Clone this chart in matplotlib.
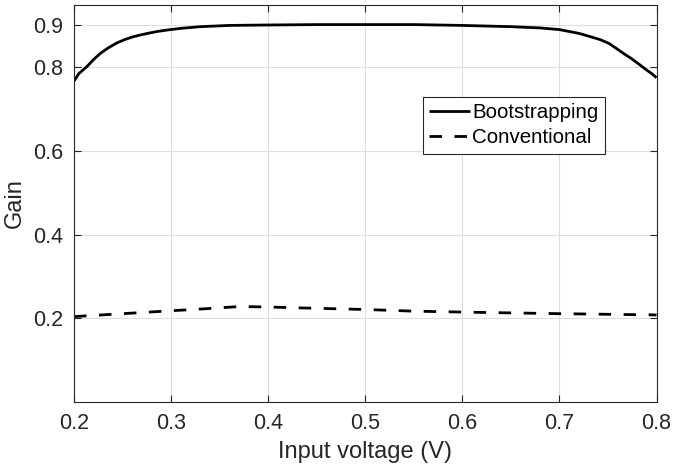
import matplotlib
matplotlib.use("Agg")
import matplotlib.pyplot as plt

plt.rcParams["font.family"] = ["Liberation Sans", "DejaVu Sans"]

# values
boot_v = [0.200, 0.205, 0.213, 0.220, 0.227, 0.235, 0.244, 0.252, 0.261,
          0.270, 0.278, 0.287, 0.296, 0.310, 0.330, 0.360, 0.400, 0.450,
          0.500, 0.550, 0.600, 0.650, 0.680, 0.700, 0.720, 0.732, 0.742,
          0.751, 0.758, 0.766, 0.774, 0.781, 0.790, 0.795, 0.800]
boot_gain = [0.767, 0.785, 0.801, 0.818, 0.833, 0.846, 0.858, 0.866, 0.873,
             0.878, 0.882, 0.886, 0.889, 0.893, 0.897, 0.900, 0.901, 0.902,
             0.902, 0.902, 0.900, 0.897, 0.894, 0.890, 0.881, 0.873, 0.866,
             0.857, 0.846, 0.833, 0.821, 0.809, 0.793, 0.785, 0.775]

conv_v = [0.20, 0.25, 0.30, 0.33, 0.37, 0.40, 0.43, 0.50, 0.55, 0.62, 0.70, 0.80]
conv_gain = [0.204, 0.211, 0.218, 0.222, 0.228, 0.227, 0.225, 0.221, 0.217,
             0.214, 0.211, 0.208]

xticks = [0.2, 0.3, 0.4, 0.5, 0.6, 0.7, 0.8]
yticks = [0.2, 0.4, 0.6, 0.8, 0.9]

dark = "0.15"

fig = plt.figure(figsize=(6.73, 4.74), dpi=100)
ax = fig.add_axes([0.110, 0.152, 0.8655, 0.8385])

ax.plot(boot_v, boot_gain, color="k", lw=2.0, label="Bootstrapping",
        solid_joinstyle="round", solid_capstyle="butt")
ax.plot(conv_v, conv_gain, color="k", lw=2.0, ls=(0, (4.5, 4.5)),
        label="Conventional")

ax.set_xlim(0.2, 0.8)
ax.set_ylim(0.0, 0.95)
ax.set_xticks(xticks)
ax.set_yticks(yticks)
ax.set_xticklabels([f"{t:g}" for t in xticks])
ax.set_yticklabels([f"{t:g}" for t in yticks])

ax.grid(True, color="0.87", lw=0.8)
ax.set_axisbelow(True)
ax.tick_params(direction="in", length=5, width=0.8, colors=dark,
               labelsize=15.5, top=True, right=True, pad=8)
for sp in ax.spines.values():
    sp.set_color(dark)
    sp.set_linewidth(0.8)

ax.set_xlabel("Input voltage (V)", fontsize=17, color=dark, labelpad=5)
ax.set_ylabel("Gain", fontsize=17, color=dark, labelpad=5)

leg = ax.legend(loc="upper left", bbox_to_anchor=(0.599, 0.767),
                borderaxespad=0, fontsize=14.8, handlelength=2.0,
                handletextpad=0.1, labelspacing=0.3, borderpad=0.3,
                fancybox=False, framealpha=1, edgecolor=dark)
leg.get_frame().set_linewidth(0.8)
for t in leg.get_texts():
    t.set_color("k")

fig.savefig("out.png", dpi=100)
